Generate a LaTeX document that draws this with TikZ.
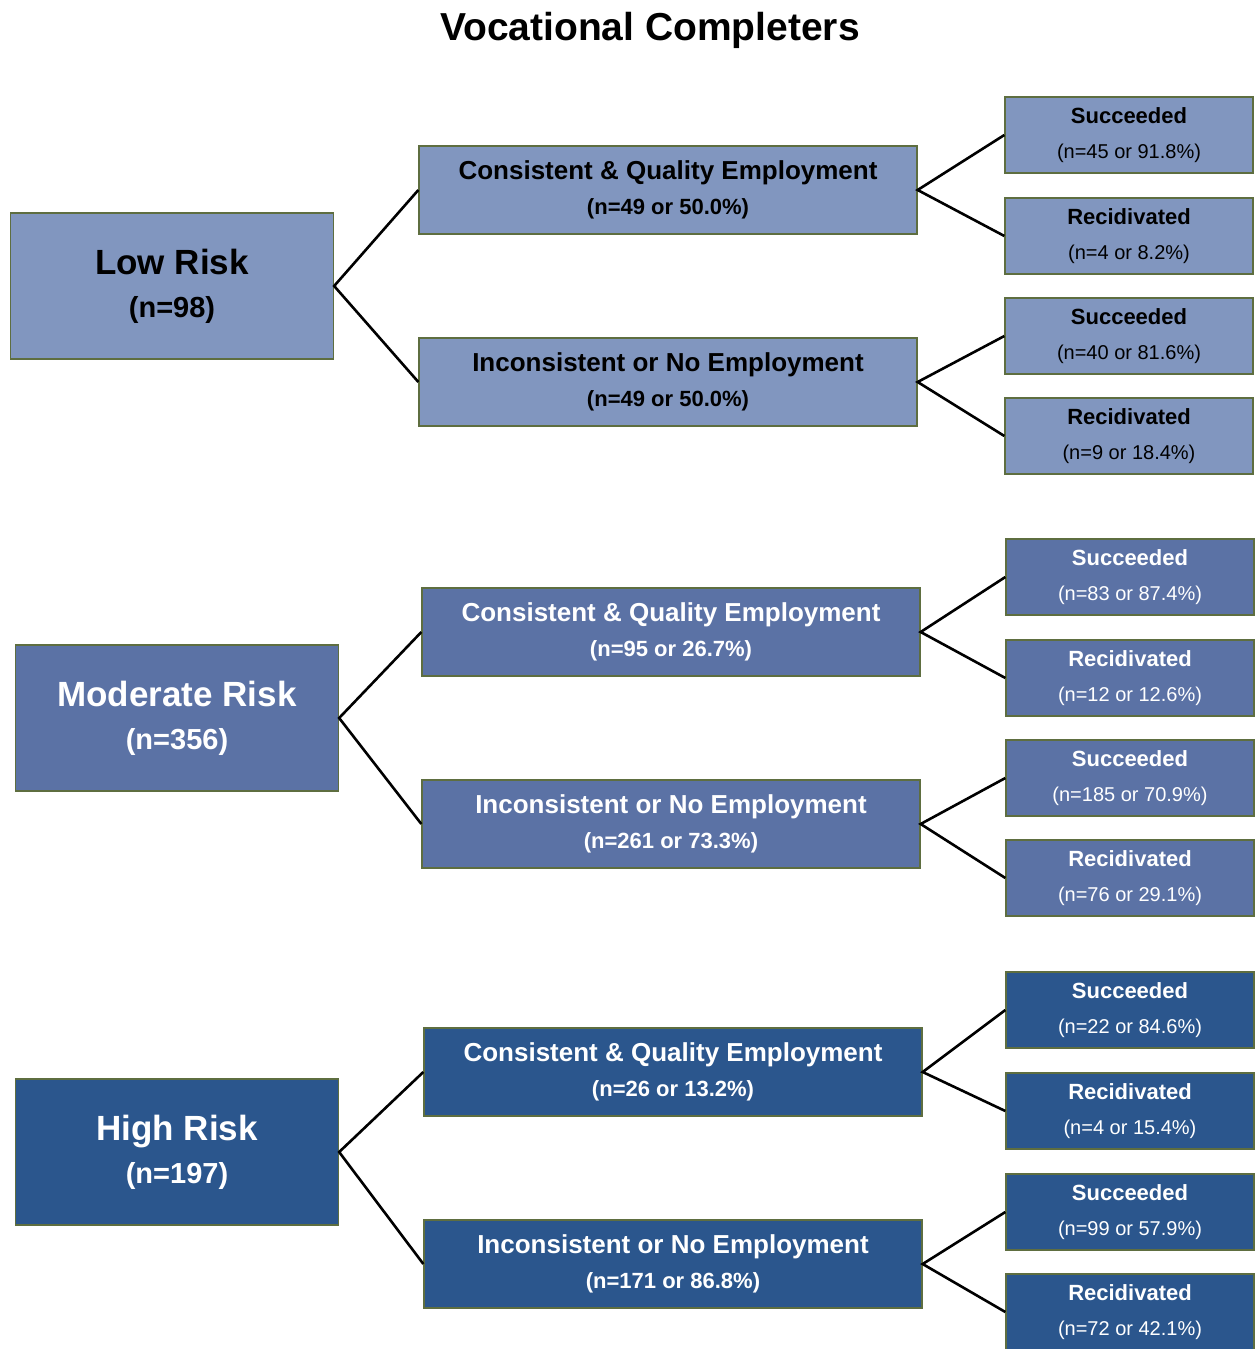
\documentclass[tikz,border=0pt]{standalone}
\usepackage{fontspec}
\setmainfont{Liberation Sans}
\definecolor{lowc}{RGB}{129,150,191}
\definecolor{modc}{RGB}{91,114,165}
\definecolor{highc}{RGB}{43,86,141}
\definecolor{edgec}{RGB}{94,110,64}
\tikzset{
  box/.style={draw=edgec, line width=1.3pt, inner sep=0pt, align=center},
  rootbox/.style={box, minimum width=323pt, minimum height=146pt,
    font=\fontsize{35}{43}\selectfont\bfseries},
  midbox/.style={box, minimum width=498pt, minimum height=88pt,
    font=\fontsize{26}{35}\selectfont\bfseries},
  leafbox/.style={box, minimum width=248pt, minimum height=76pt,
    font=\fontsize{22}{35}\selectfont\bfseries},
  low/.style={fill=lowc, text=black},
  mod/.style={fill=modc, text=white},
  high/.style={fill=highc, text=white},
  link/.style={draw=black, line width=2.6pt},
}
\newcommand{\rootn}[1]{\\{\fontsize{29}{43}\selectfont #1}}
\newcommand{\midn}[1]{\\{\fontsize{22}{35}\selectfont #1}}
\newcommand{\leafn}[1]{\\{\fontsize{20}{35}\selectfont\mdseries #1}}
\begin{document}
\begin{tikzpicture}[x=1pt,y=-1pt]
\useasboundingbox (0,0) rectangle (1254,1349);

\node[font=\fontsize{39}{46}\selectfont\bfseries] (title) at (650,30) {Vocational Completers};

% Low risk branch
\node[rootbox,low] (L) at (172,286) {Low Risk\rootn{(n=98)}};
\node[midbox,low] (LC) at (668,190) {Consistent \& Quality Employment\midn{(n=49 or 50.0\%)}};
\node[midbox,low] (LI) at (668,382) {Inconsistent or No Employment\midn{(n=49 or 50.0\%)}};
\node[leafbox,low] (LCS) at (1129,135) {Succeeded\leafn{(n=45 or 91.8\%)}};
\node[leafbox,low] (LCR) at (1129,236) {Recidivated\leafn{(n=4 or 8.2\%)}};
\node[leafbox,low] (LIS) at (1129,336) {Succeeded\leafn{(n=40 or 81.6\%)}};
\node[leafbox,low] (LIR) at (1129,436) {Recidivated\leafn{(n=9 or 18.4\%)}};

% Moderate risk branch
\node[rootbox,mod] (M) at (177,718) {Moderate Risk\rootn{(n=356)}};
\node[midbox,mod] (MC) at (671,632) {Consistent \& Quality Employment\midn{(n=95 or 26.7\%)}};
\node[midbox,mod] (MI) at (671,824) {Inconsistent or No Employment\midn{(n=261 or 73.3\%)}};
\node[leafbox,mod] (MCS) at (1130,577) {Succeeded\leafn{(n=83 or 87.4\%)}};
\node[leafbox,mod] (MCR) at (1130,678) {Recidivated\leafn{(n=12 or 12.6\%)}};
\node[leafbox,mod] (MIS) at (1130,778) {Succeeded\leafn{(n=185 or 70.9\%)}};
\node[leafbox,mod] (MIR) at (1130,878) {Recidivated\leafn{(n=76 or 29.1\%)}};

% High risk branch
\node[rootbox,high] (H) at (177,1152) {High Risk\rootn{(n=197)}};
\node[midbox,high] (HC) at (673,1072) {Consistent \& Quality Employment\midn{(n=26 or 13.2\%)}};
\node[midbox,high] (HI) at (673,1264) {Inconsistent or No Employment\midn{(n=171 or 86.8\%)}};
\node[leafbox,high] (HCS) at (1130,1010) {Succeeded\leafn{(n=22 or 84.6\%)}};
\node[leafbox,high] (HCR) at (1130,1111) {Recidivated\leafn{(n=4 or 15.4\%)}};
\node[leafbox,high] (HIS) at (1130,1212) {Succeeded\leafn{(n=99 or 57.9\%)}};
\node[leafbox,high] (HIR) at (1130,1312) {Recidivated\leafn{(n=72 or 42.1\%)}};

% Connectors
\foreach \p/\a/\b in {L/LC/LI, LC/LCS/LCR, LI/LIS/LIR,
                      M/MC/MI, MC/MCS/MCR, MI/MIS/MIR,
                      H/HC/HI, HC/HCS/HCR, HI/HIS/HIR}{
  \draw[link] (\a.west) -- (\p.east) -- (\b.west);
}
\end{tikzpicture}
\end{document}
